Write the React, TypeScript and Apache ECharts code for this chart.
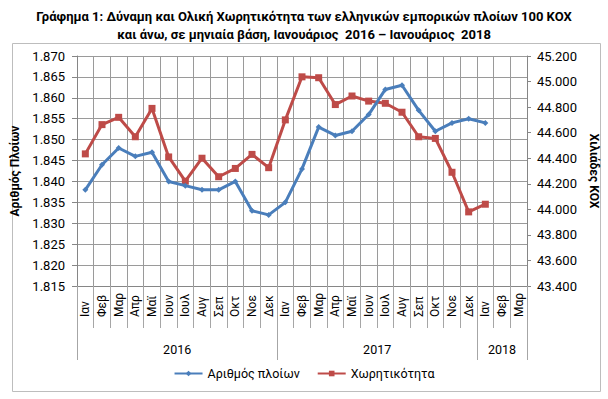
import React, { useEffect, useRef } from "react";
import * as echarts from "echarts";

const months = [
  "Ιαν", "Φεβ", "Μαρ", "Απρ", "Μαϊ", "Ιουν", "Ιουλ", "Αυγ", "Σεπ", "Οκτ", "Νοε", "Δεκ",
  "Ιαν", "Φεβ", "Μαρ", "Απρ", "Μαϊ", "Ιουν", "Ιουλ", "Αυγ", "Σεπ", "Οκτ", "Νοε", "Δεκ",
  "Ιαν", "Φεβ", "Μαρ",
];
const years = ["2016", "2017", "2018"];
const yearStartIndex = [0, 12, 24];
const yearLabelIndex = [5, 17, 25];

// Number of ships (left axis)
const ships = [
  1838, 1844, 1848, 1846, 1847, 1840, 1839, 1838, 1838, 1840, 1833, 1832,
  1835, 1843, 1853, 1851, 1852, 1856, 1862, 1863, 1857, 1852, 1854, 1855,
  1854,
];
// Capacity, GT thousands (right axis)
const capacity = [
  44434, 44663, 44720, 44568, 44790, 44410, 44220, 44400, 44255, 44320, 44430, 44326,
  44700, 45037, 45030, 44820, 44887, 44847, 44830, 44760, 44568, 44555, 44290, 43980,
  44040,
];

const FONT = "Roboto, 'Noto Sans', 'Liberation Sans', sans-serif";
const fmt = (v: number) => (v / 1000).toFixed(3);

export default function App() {
  const ref = useRef<HTMLDivElement>(null);
  useEffect(() => {
    if (!ref.current) return;
    const chart = echarts.init(ref.current, undefined, { renderer: "svg" });
    chart.setOption({
      animation: false,
      backgroundColor: "#ffffff",
      textStyle: { fontFamily: FONT },
      title: {
        text: "Γράφημα 1: Δύναμη και Ολική Χωρητικότητα των ελληνικών εμπορικών πλοίων 100 ΚΟΧ\nκαι άνω, σε μηνιαία βάση, Ιανουάριος  2016 – Ιανουάριος  2018",
        left: "center",
        top: 2,
        textStyle: { fontFamily: FONT, fontSize: 13, fontWeight: "bold", color: "#000", lineHeight: 18 },
      },
      graphic: [
        {
          type: "rect",
          shape: { x: 12.5, y: 43.5, width: 588, height: 348 },
          style: { fill: "none", stroke: "#bdbdbd", lineWidth: 1 },
          silent: true,
        },
      ],
      legend: {
        top: 362,
        left: "center",
        itemWidth: 28,
        itemHeight: 7,
        itemGap: 17,
        textStyle: { fontFamily: FONT, fontSize: 12.5, color: "#000" },
        data: ["Αριθμός πλοίων", "Χωρητικότητα"],
      },
      grid: { left: 77, right: 81, top: 56, bottom: 113, containLabel: false },
      xAxis: [
        {
          type: "category",
          data: months,
          boundaryGap: true,
          axisLine: { show: true, lineStyle: { color: "#868686" } },
          axisTick: { show: true, interval: 0, length: 42, lineStyle: { color: "#a6a6a6" } },
          axisLabel: {
            interval: 0,
            rotate: 90,
            align: "left",
            verticalAlign: "middle",
            margin: 31,
            fontSize: 12,
            color: "#000",
            fontFamily: FONT,
          },
          splitLine: { show: true, interval: 0, lineStyle: { color: "#9a9a9a", width: 1 } },
        },
        {
          type: "category",
          data: months,
          position: "bottom",
          boundaryGap: true,
          axisLine: { show: false },
          axisTick: {
            show: true,
            length: 74,
            interval: (i: number) => yearStartIndex.includes(i),
            lineStyle: { color: "#a6a6a6" },
          },
          axisLabel: {
            interval: 0,
            margin: 57,
            fontSize: 12.5,
            color: "#000",
            fontFamily: FONT,
            formatter: (_v: string, i: number) => {
              const k = yearLabelIndex.indexOf(i);
              if (k < 0) return "";
              return k < 2 ? "{s|" + years[k] + "}" : years[k];
            },
            rich: { s: { padding: [0, 0, 0, 17], fontSize: 12.5, color: "#000", fontFamily: FONT } },
          },
          splitLine: { show: false },
        },
      ],
      yAxis: [
        {
          type: "value",
          min: 1815,
          max: 1870,
          interval: 5,
          name: "Αριθμός Πλοίων",
          nameLocation: "middle",
          nameGap: 52,
          nameTextStyle: { fontFamily: FONT, fontSize: 12, fontWeight: "bold", color: "#000" },
          axisLine: { show: true, lineStyle: { color: "#868686" } },
          axisTick: { show: true, length: 5, lineStyle: { color: "#868686" } },
          axisLabel: { formatter: fmt, fontSize: 13, color: "#000", margin: 12, fontFamily: FONT },
          splitLine: { show: true, lineStyle: { color: "#9a9a9a", width: 1 } },
        },
        {
          type: "value",
          min: 43400,
          max: 45200,
          interval: 200,
          position: "right",
          name: "Χιλιάδες ΚΟΧ",
          nameLocation: "middle",
          nameRotate: -90,
          nameGap: 51,
          nameTextStyle: {
            fontFamily: FONT,
            fontSize: 12,
            fontWeight: "bold",
            color: "#000",
          },
          axisLine: { show: true, lineStyle: { color: "#868686" } },
          axisTick: { show: true, length: 4, lineStyle: { color: "#868686" } },
          axisLabel: { formatter: fmt, fontSize: 13, color: "#000", margin: 10, fontFamily: FONT },
          splitLine: { show: false },
        },
      ],
      series: [
        {
          name: "Αριθμός πλοίων",
          type: "line",
          yAxisIndex: 0,
          data: ships,
          symbol: "diamond",
          symbolSize: 6,
          showAllSymbol: true,
          color: "#4A7EBB",
          lineStyle: { width: 3, color: "#4A7EBB" },
          itemStyle: { color: "#4A7EBB" },
          z: 3,
        },
        {
          name: "Χωρητικότητα",
          type: "line",
          yAxisIndex: 1,
          data: capacity,
          symbol: "rect",
          symbolSize: 7,
          showAllSymbol: true,
          color: "#BE4B48",
          lineStyle: { width: 3, color: "#BE4B48" },
          itemStyle: { color: "#BE4B48" },
          z: 2,
        },
      ],
    });
    return () => chart.dispose();
  }, []);
  return (
    <div
      ref={ref}
      style={{ position: "fixed", left: 0, top: 0, width: 608, height: 399 }}
    />
  );
}
